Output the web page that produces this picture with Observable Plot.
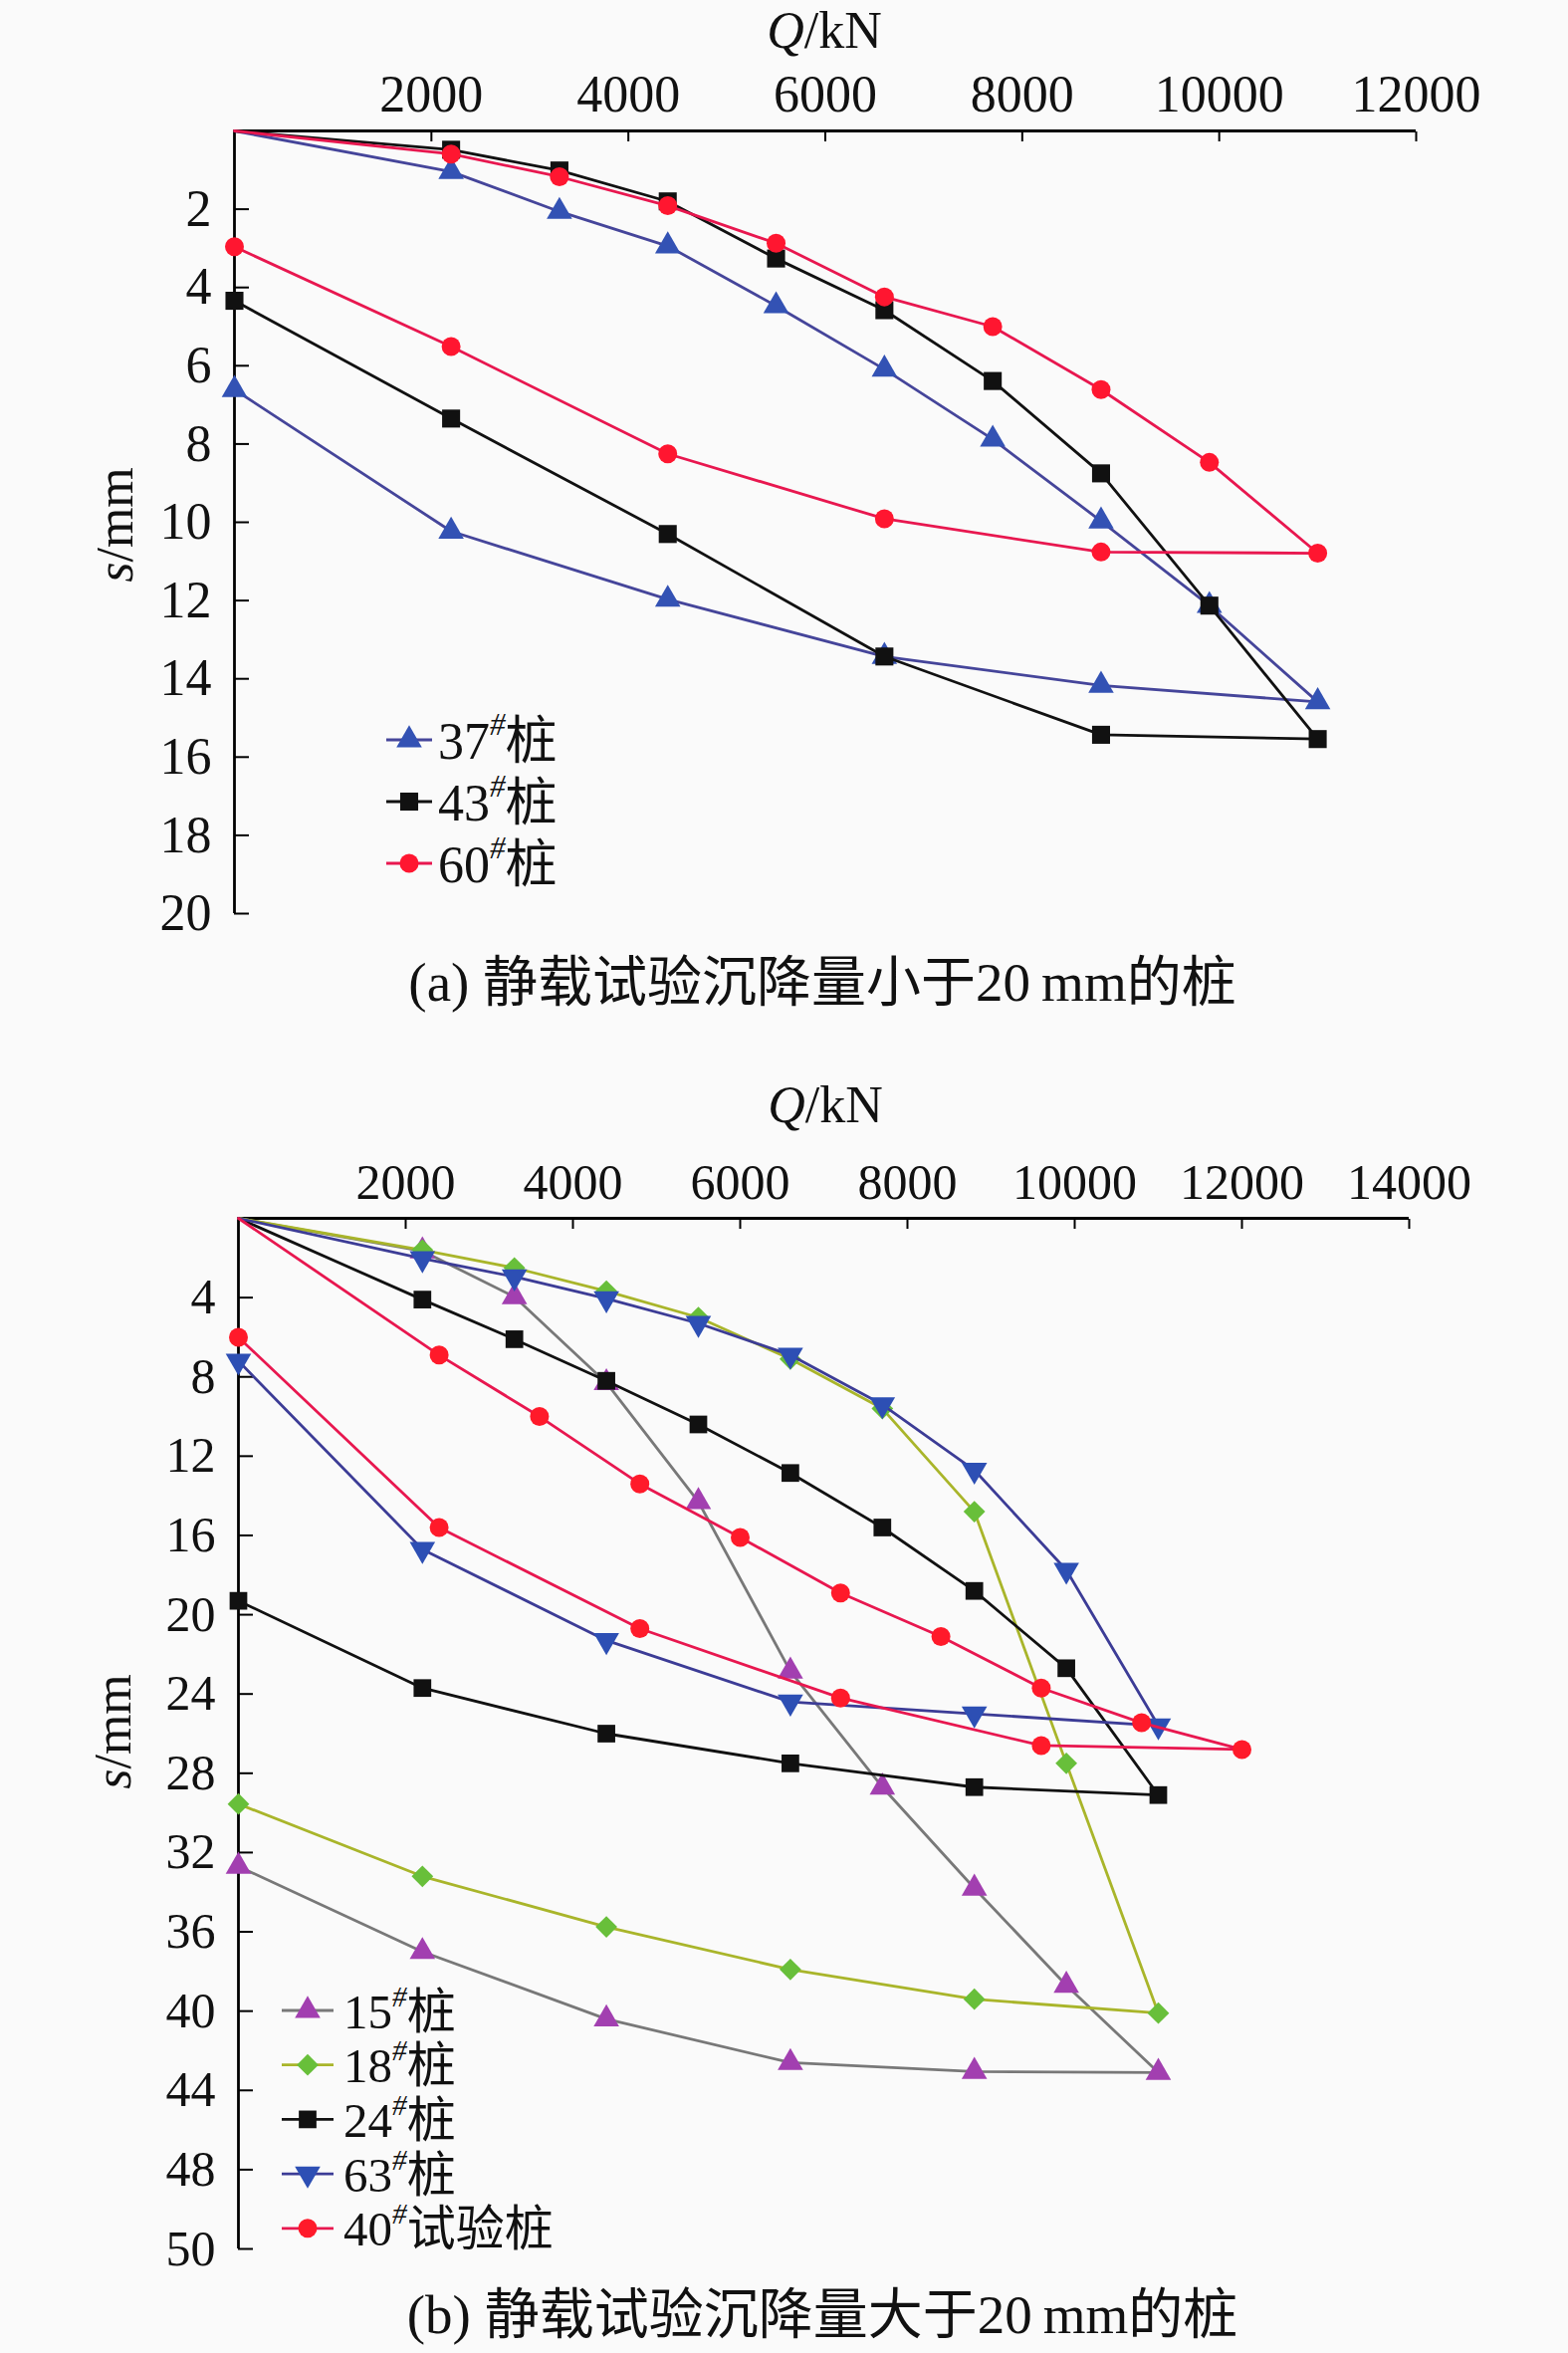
<!DOCTYPE html>
<html>
<head>
<meta charset="utf-8">
<script src="https://cdn.jsdelivr.net/npm/d3@7"></script>
<script src="https://cdn.jsdelivr.net/npm/@observablehq/plot@0.6"></script>
<style>
  body { margin: 0; background: #fafafa; }
  #wrap { position: relative; width: 1575px; height: 2363px; overflow: hidden; }
  #wrap svg { position: absolute; left: 0; }
</style>
</head>
<body>
<div id="wrap"></div>
<script>
// ---------------- DATA: chart (a) ----------------
const qLoadA   = [0, 2200, 3300, 4400, 5500, 6600, 7700, 8800, 9900, 11000];
const qUnloadA = [8800, 6600, 4400, 2200, 0];
const s37Load   = [0, 1.04, 2.06, 2.94, 4.47, 6.09, 7.88, 9.97, 12.13, 14.59];
const s37Unload = [14.17, 13.43, 11.97, 10.23, 6.61];
const s43Load   = [0, 0.48, 1.01, 1.80, 3.26, 4.58, 6.39, 8.75, 12.13, 15.54];
const s43Unload = [15.43, 13.43, 10.30, 7.35, 4.34];
const s60Load   = [0, 0.59, 1.17, 1.91, 2.87, 4.24, 5.00, 6.61, 8.47, 10.79];
const s60Unload = [10.76, 9.91, 8.25, 5.51, 2.96];
const xTicksA = [2000, 4000, 6000, 8000, 10000, 12000];
const yTicksA = [2, 4, 6, 8, 10, 12, 14, 16, 18, 20];

// ---------------- DATA: chart (b) ----------------
const qLoadB   = [0, 2200, 3300, 4400, 5500, 6600, 7700, 8800, 9900, 11000];
const qUnloadB = [8800, 6600, 4400, 2200, 0];
const s15Load   = [0, 1.65, 3.96, 8.3, 14.3, 22.85, 28.7, 33.8, 38.7, 43.1];
const s15Unload = [43.05, 42.6, 40.4, 37.0, 32.7];
const s18Load   = [0, 1.6, 2.5, 3.67, 5.0, 7.1, 9.6, 14.8, 27.5, 40.1];
const s18Unload = [39.4, 37.9, 35.75, 33.2, 29.55];
const s24Load   = [0, 4.1, 6.1, 8.2, 10.4, 12.85, 15.6, 18.8, 22.7, 29.1];
const s24Unload = [28.7, 27.5, 26.0, 23.7, 19.3];
const s63Load   = [0, 2.03, 2.95, 4.05, 5.3, 6.9, 9.4, 12.7, 17.75, 25.6];
const s63Unload = [25.0, 24.4, 21.3, 16.7, 7.2];
const q40Load   = [0, 2400, 3600, 4800, 6000, 7200, 8400, 9600, 10800, 12000];
const s40Load   = [0, 6.9, 10.0, 13.4, 16.1, 18.9, 21.1, 23.7, 25.45, 26.8];
const q40Unload = [9600, 7200, 4800, 2400, 0];
const s40Unload = [26.6, 24.2, 20.7, 15.6, 6.0];
const xTicksB = [2000, 4000, 6000, 8000, 10000, 12000, 14000];
const yTicksB = [4, 8, 12, 16, 20, 24, 28, 32, 36, 40, 44, 48, 52];
const yLabelsB = ["4", "8", "12", "16", "20", "24", "28", "32", "36", "40", "44", "48", "50"];

// ---------------- TEXT ----------------
const pileNamesA = ["37", "43", "60"];
const pileSuffixA = ["桩", "桩", "桩"];
const pileNamesB = ["15", "18", "24", "63", "40"];
const pileSuffixB = ["桩", "桩", "桩", "桩", "试验桩"];
const captionA = "(a) 静载试验沉降量小于20\u2009mm的桩";
const captionB = "(b) 静载试验沉降量大于20\u2009mm的桩";

// ---------------- STYLES ----------------
const FONT = "'Liberation Serif', 'Times New Roman', 'Noto Sans CJK SC', serif";
const styleA = [
  {line: "#45459a", fill: "#3352b4", symbol: "triangle", r: 9.5, rotate: 0},
  {line: "#111111", fill: "#111111", symbol: "square",   r: 10.2, rotate: 0},
  {line: "#e8174f", fill: "#ff1630", symbol: "circle",   r: 9.5, rotate: 0}
];
const styleB = [
  {line: "#787878", fill: "#a23fb0", symbol: "triangle", r: 9.5, rotate: 0},
  {line: "#a9b52a", fill: "#68bf3a", symbol: "diamond2", r: 9.8, rotate: 0},
  {line: "#111111", fill: "#111111", symbol: "square",   r: 10.0, rotate: 0},
  {line: "#3c3c96", fill: "#2d4fb4", symbol: "triangle", r: 9.5, rotate: 180},
  {line: "#e8174f", fill: "#ff1a2a", symbol: "circle",   r: 9.5, rotate: 0}
];

function rows(qL, sL, qU, sU) {
  return qL.map((q, i) => ({Q: q, s: sL[i]})).concat(qU.map((q, i) => ({Q: q, s: sU[i]})));
}

const seriesA = [
  rows(qLoadA, s37Load, qUnloadA, s37Unload),
  rows(qLoadA, s43Load, qUnloadA, s43Unload),
  rows(qLoadA, s60Load, qUnloadA, s60Unload)
];
const seriesB = [
  rows(qLoadB, s15Load, qUnloadB, s15Unload),
  rows(qLoadB, s18Load, qUnloadB, s18Unload),
  rows(qLoadB, s24Load, qUnloadB, s24Unload),
  rows(qLoadB, s63Load, qUnloadB, s63Unload),
  rows(q40Load, s40Load, q40Unload, s40Unload)
];

const symbolMap = {
  triangle: d3.symbolTriangle, square: d3.symbolSquare,
  circle: d3.symbolCircle, diamond2: d3.symbolDiamond2
};

function makeChart(cfg) {
  const marks = [
    Plot.axisX(cfg.xTicks, {anchor: "top", label: null, tickSize: -10, tickPadding: 30, tickFormat: d3.format("d"),
      fontSize: cfg.tickFont, strokeWidth: 2, fill: "#111"}),
    Plot.axisY(cfg.yTicks, {anchor: "left", label: null, tickSize: -15, tickPadding: 38, tickFormat: cfg.yFormat,
      fontSize: cfg.tickFont, strokeWidth: 2, fill: "#111"}),
    Plot.ruleY([0], {stroke: "#000", strokeWidth: 2.8}),
    Plot.ruleX([0], {stroke: "#000", strokeWidth: 2.8})
  ];
  cfg.series.forEach((data, i) => {
    const st = cfg.styles[i];
    marks.push(Plot.line(data, {x: "Q", y: "s", stroke: st.line, strokeWidth: 2.8, curve: "linear"}));
    marks.push(Plot.dot(data.filter(d => !(d.Q === 0 && d.s === 0)), {
      x: "Q", y: "s", symbol: st.symbol, r: st.r, fill: st.fill, stroke: "none", rotate: st.rotate
    }));
  });
  const svg = Plot.plot({
    width: 1575, height: cfg.height,
    marginTop: cfg.mt, marginBottom: cfg.mb, marginLeft: cfg.ml, marginRight: cfg.mr,
    style: {background: "transparent", fontFamily: FONT, color: "#000"},
    x: {domain: cfg.xDomain, axis: null, label: null},
    y: {domain: cfg.yDomain, reverse: true, axis: null, label: null},
    marks
  });
  svg.style.top = cfg.top + "px";
  document.getElementById("wrap").appendChild(svg);

  const s = d3.select(svg);
  const g = s.append("g").attr("font-family", FONT).attr("fill", "#111").attr("text-anchor", "start");
  // axis titles
  const qt = g.append("text").attr("x", cfg.qTitle[0]).attr("y", cfg.qTitle[1])
    .attr("text-anchor", "middle").attr("font-size", cfg.titleFont);
  qt.append("tspan").attr("font-style", "italic").text("Q");
  qt.append("tspan").text("/kN");
  const st = g.append("text").attr("transform", `translate(${cfg.sTitle[0]},${cfg.sTitle[1]}) rotate(-90)`)
    .attr("text-anchor", "middle").attr("font-size", cfg.titleFont);
  st.append("tspan").attr("font-style", "italic").text("s");
  st.append("tspan").text("/mm");
  // caption
  g.append("text").attr("x", cfg.caption[0]).attr("y", cfg.caption[1]).attr("text-anchor", "middle")
    .attr("font-size", cfg.captionFont).text(cfg.captionText);
  // legend
  cfg.legendNames.forEach((name, i) => {
    const stl = cfg.styles[i];
    const y = cfg.legend.y0 + i * cfg.legend.dy;
    g.append("line").attr("x1", cfg.legend.x1).attr("x2", cfg.legend.x2).attr("y1", y).attr("y2", y)
      .attr("stroke", stl.line).attr("stroke-width", 2.8);
    g.append("path").attr("d", d3.symbol(symbolMap[stl.symbol], Math.PI * stl.r * stl.r)())
      .attr("transform", `translate(${(cfg.legend.x1 + cfg.legend.x2) / 2},${y}) rotate(${stl.rotate})`)
      .attr("fill", stl.fill);
    const t = g.append("text").attr("x", cfg.legend.tx).attr("y", y).attr("dy", "0.36em")
      .attr("text-anchor", "start").attr("font-size", cfg.legend.font);
    t.append("tspan").text(name);
    t.append("tspan").attr("font-size", cfg.legend.font * 0.6).attr("font-style", "italic")
      .attr("dy", "-0.75em").text("#");
    t.append("tspan").attr("dy", "0.45em").text(cfg.legendSuffix[i]);
  });
}

makeChart({
  top: 0, height: 1050, mt: 131, mb: 133, ml: 235, mr: 153,
  xDomain: [0, 12000], yDomain: [0, 20], xTicks: xTicksA, yTicks: yTicksA,
  yFormat: d => String(d), tickFont: 52, titleFont: 52, captionFont: 55,
  series: seriesA, styles: styleA,
  qTitle: [828, 48], sTitle: [133, 527],
  caption: [826, 1005], captionText: captionA,
  legendNames: pileNamesA, legendSuffix: pileSuffixA,
  legend: {y0: 743, dy: 62, x1: 388, x2: 434, tx: 440, font: 52}
});

makeChart({
  top: 1050, height: 1313, mt: 173, mb: 105, ml: 239, mr: 160,
  xDomain: [0, 14000], yDomain: [0, 52], xTicks: xTicksB, yTicks: yTicksB,
  yFormat: (d, i) => yLabelsB[yTicksB.indexOf(d)], tickFont: 50, titleFont: 52, captionFont: 55,
  series: seriesB, styles: styleB,
  qTitle: [829, 77], sTitle: [131, 689],
  caption: [826, 1293], captionText: captionB,
  legendNames: pileNamesB, legendSuffix: pileSuffixB,
  legend: {y0: 969, dy: 54.7, x1: 283, x2: 335, tx: 345, font: 49}
});
</script>
</body>
</html>
